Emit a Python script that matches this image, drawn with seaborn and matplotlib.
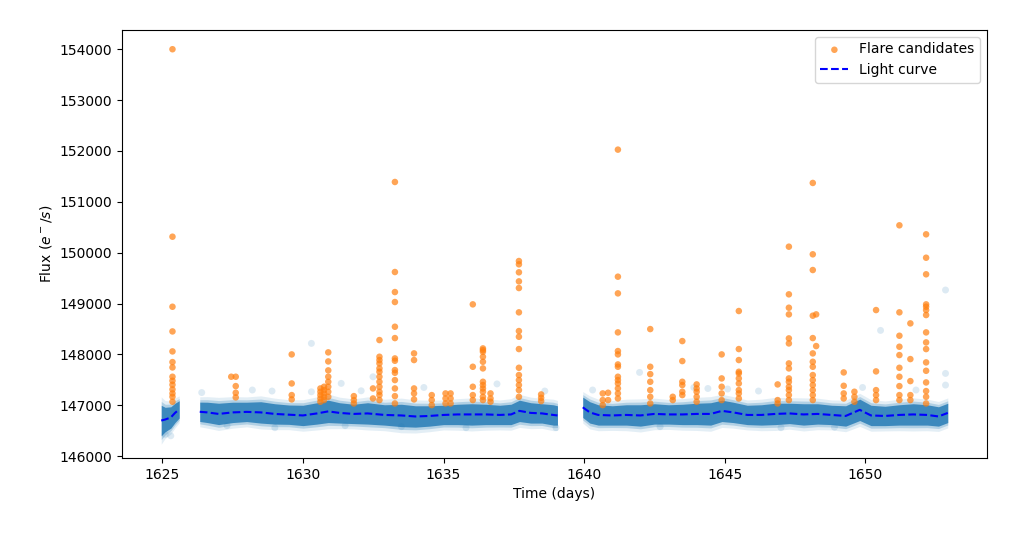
import numpy as np
import pandas as pd
import seaborn as sns
import matplotlib.pyplot as plt

# light curve trend, segment id marks the data gaps
lc_seg = [1] * 5 + [2] * 29 + [3] * 29
lc_time = [1624.96, 1625.1, 1625.3, 1625.45, 1625.6,
           1626.33, 1626.6, 1627.0, 1627.5, 1628.0, 1628.5, 1629.0, 1629.5, 1630.0,
           1630.5, 1630.9, 1631.3, 1631.8, 1632.3, 1632.9, 1633.5, 1634.0, 1634.5,
           1635.0, 1635.5, 1636.0, 1636.5, 1637.0, 1637.4, 1637.7, 1638.1, 1638.5,
           1638.9, 1639.05,
           1639.95, 1640.2, 1640.5, 1641.0, 1641.5, 1642.0, 1642.5, 1643.0, 1643.5,
           1644.0, 1644.5, 1644.9, 1645.3, 1645.8, 1646.3, 1646.8, 1647.3, 1647.8,
           1648.3, 1648.8, 1649.3, 1649.8, 1650.2, 1650.7, 1651.2, 1651.7, 1652.2,
           1652.6, 1652.93]
lc_flux = [146700, 146720, 146760, 146850, 146920,
           146872, 146860, 146830, 146860, 146870, 146860, 146830, 146815, 146800,
           146840, 146880, 146850, 146830, 146840, 146810, 146800, 146780, 146790,
           146810, 146820, 146820, 146820, 146810, 146820, 146890, 146850, 146840,
           146810, 146800,
           146960, 146860, 146810, 146800, 146810, 146800, 146830, 146820, 146820,
           146830, 146830, 146890, 146860, 146810, 146810, 146830, 146840, 146820,
           146830, 146810, 146790, 146910, 146800, 146790, 146810, 146820, 146810,
           146780, 146850]
# half width of the dense band of points around the trend
band_half = ([300, 240, 210, 190, 170]
             + [190, 200, 210, 200, 190, 210, 200, 190, 200, 210, 220, 200, 190, 210, 200,
                220, 210, 200, 190, 200, 210, 200, 190, 200, 210, 200, 190, 200, 190]
             + [200, 210, 200, 190, 200, 210, 200, 190, 200, 210, 220, 210, 200, 190, 200,
                210, 200, 210, 200, 190, 200, 210, 200, 190, 200, 210, 200, 190, 190])

# loose points off the band
stray_time = [1630.30, 1631.36, 1630.30, 1632.07, 1632.49, 1641.97, 1650.54, 1652.85,
              1652.85, 1652.85, 1628.2, 1628.9, 1634.3, 1636.9, 1640.3, 1643.9,
              1646.2, 1649.9, 1651.8, 1625.1, 1625.3, 1629.0, 1633.5, 1647.0, 1631.5,
              1626.4, 1638.6, 1645.1, 1635.8, 1642.7, 1648.9, 1627.3, 1639.0, 1644.4]
stray_flux = [148217, 147430, 147265, 147285, 147560, 147646, 148472, 149266,
              147626, 147397, 147300, 147280, 147350, 147420, 147300, 147350,
              147280, 147350, 147300, 146430, 146400, 146560, 146580, 146560, 146600,
              147250, 147280, 147320, 146560, 146580, 146570, 146600, 146560, 147330]

# flare candidates, one column of points per flare
flare_time = [1625.36, 1627.45, 1627.61, 1629.60, 1630.62, 1630.75, 1630.90, 1631.81,
              1632.49, 1632.72, 1633.27, 1633.95, 1634.58, 1635.07, 1635.25, 1636.04,
              1636.40, 1636.67, 1637.68, 1638.47,
              1640.66, 1640.85, 1641.20, 1642.35, 1643.15, 1643.49, 1644.00, 1644.89,
              1645.50, 1646.88, 1647.28, 1648.13, 1648.25, 1649.23, 1649.61, 1650.38,
              1651.21, 1651.60, 1652.16]
flare_flux = [
    [154000, 150314, 148937, 148452, 148059, 147849, 147744, 147561, 147482, 147403,
     147312, 147233, 147167, 147069],
    [147561],
    [147561, 147377, 147246, 147155],
    [148000, 147429, 147200, 147115],
    [147331, 147266, 147200, 147134, 147069],
    [147364, 147298, 147233, 147167, 147102],
    [148040, 147862, 147686, 147561, 147462, 147364, 147266, 147167],
    [147180, 147102, 147036],
    [147331, 147134],
    [148282, 147954, 147889, 147823, 147725, 147659, 147561, 147462, 147364, 147266,
     147200, 147102],
    [151390, 149620, 149226, 149030, 148544, 148321, 147921, 147875, 147692, 147639,
     147495, 147331, 147180, 147036],
    [148020, 147889, 147331, 147233, 147115],
    [147200, 147102, 147003],
    [147233, 147134, 147036],
    [147233, 147134, 147036],
    [148984, 147757, 147364, 147200, 147102],
    [148118, 148085, 148052, 147954, 147855, 147725, 147462, 147397, 147331, 147266,
     147167, 147102],
    [147233, 147134, 147069],
    [149836, 149771, 149614, 149436, 149305, 148827, 148459, 148347, 148105, 147737,
     147594, 147495, 147397, 147298, 147167],
    [147213, 147147, 147082],
    [147233, 147102, 147003],
    [147246, 147102],
    [152026, 149528, 149200, 148433, 148066, 148000, 147803, 147757, 147561, 147495,
     147429, 147331, 147233, 147134],
    [148498, 147757, 147613, 147462, 147298, 147167, 147036],
    [147167, 147102],
    [148262, 147869, 147462, 147397, 147266, 147200],
    [147410, 147331, 147266, 147167, 147069],
    [148000, 147528, 147364, 147233, 147102],
    [148853, 148105, 147889, 147659, 147626, 147528, 147429, 147298, 147233, 147134],
    [147410, 147102, 147036],
    [150118, 149181, 148918, 148787, 148315, 148216, 147823, 147725, 147528, 147462,
     147364, 147298, 147200, 147102],
    [151371, 149968, 149659, 148761, 148321, 148020, 147855, 147757, 147594, 147495,
     147397, 147298, 147200, 147102],
    [148787, 148164],
    [147646, 147383, 147233, 147134],
    [147266, 147167, 147069],
    [148872, 147666, 147298, 147200, 147102],
    [150538, 148827, 148367, 148151, 147987, 147737, 147561, 147377, 147200, 147102],
    [148610, 147908, 147475, 147200, 147102],
    [150361, 149901, 149575, 148984, 148938, 148872, 148774, 148433, 148236, 148105,
     147843, 147678, 147449, 147279, 147167, 147036],
]

lc = pd.DataFrame({'seg': lc_seg, 'time': lc_time, 'flux': lc_flux, 'half': band_half})
flares = pd.DataFrame([(t, f) for t, col in zip(flare_time, flare_flux) for f in col],
                      columns=['time', 'flux'])

fig, ax = plt.subplots(figsize=(10.24, 5.34), dpi=100)
fig.subplots_adjust(left=0.119, right=0.964, top=0.944, bottom=0.142)

# dense band of light curve points, faint outer fuzz plus solid core
for _, g in lc.groupby('seg'):
    for scale, alpha in [(1.55, 0.12), (1.25, 0.25), (1.0, 0.8)]:
        ax.fill_between(g['time'], g['flux'] - g['half'] * scale,
                        g['flux'] + g['half'] * scale,
                        color='#1f77b4', alpha=alpha, lw=0)
sns.scatterplot(x=stray_time, y=stray_flux, color='#1f77b4', alpha=0.15, s=25,
                edgecolor='none', ax=ax)

sns.scatterplot(data=flares, x='time', y='flux', color='#ff7f0e', alpha=0.7, s=22,
                edgecolor='none', label='Flare candidates', ax=ax)
sns.lineplot(data=lc, x='time', y='flux', units='seg', estimator=None, color='b',
             linestyle='--', lw=1.5, label='Light curve', ax=ax)

ax.set_xlim(1623.56, 1654.33)
ax.set_ylim(145960, 154380)
ax.set_xlabel('Time (days)')
ax.set_ylabel('Flux ($e^-/s$)')

handles, labels = ax.get_legend_handles_labels()
ax.legend(handles[:2], labels[:2], loc='upper right')

plt.savefig('out.png')
